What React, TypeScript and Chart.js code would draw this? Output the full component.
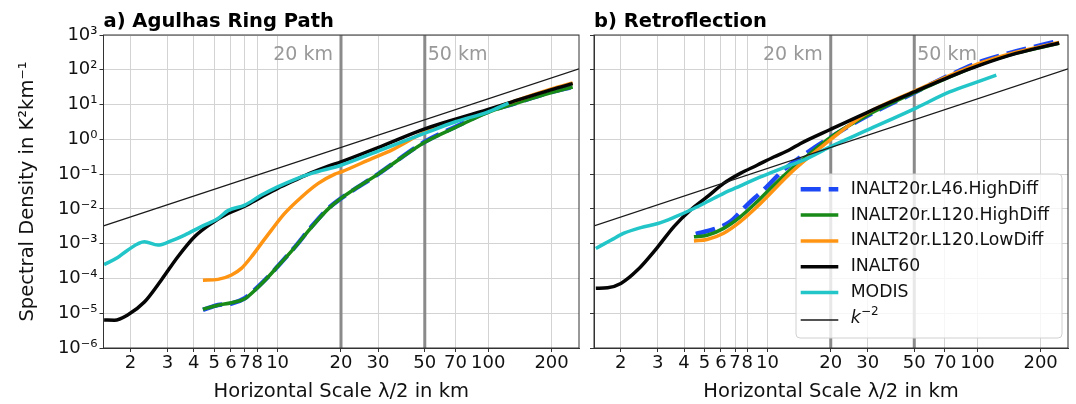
import React, { useEffect, useRef } from 'react';
import { Chart, registerables } from 'chart.js';

Chart.register(...registerables);
Chart.defaults.font.family = '"DejaVu Sans"';

// horizontal scale lambda/2 in km, spectral density in K^2 km^-1

// a) Agulhas Ring Path
const ringL46X = [4.42, 5.21, 6.04, 6.98, 7.78, 9.02, 10, 12.1, 14.5, 17.4, 20, 30, 50, 70, 100, 130, 200, 252];
const ringL46Y = [1.24e-5, 1.73e-5, 1.9e-5, 2.7e-5, 4.7e-5, 1.12e-4, 2.2e-4, 8.1e-4, 3.1e-3, 1.03e-2, 2.0e-2, 0.1, 0.85, 2.3, 6.3, 10.2, 23, 32];
const ringHighX = [4.42, 5.21, 6.04, 6.98, 7.78, 9.02, 10, 12.1, 14.5, 17.4, 20, 30, 50, 70, 100, 130, 200, 252];
const ringHighY = [1.3e-5, 1.7e-5, 2.0e-5, 2.6e-5, 4.5e-5, 1.1e-4, 2.2e-4, 8.0e-4, 3.0e-3, 1.0e-2, 2.0e-2, 0.1, 0.82, 2.2, 6.0, 10, 22, 32];
const ringLowX = [4.42, 5.21, 6.04, 6.73, 7.51, 8.38, 9.35, 10.8, 13, 15.6, 18.7, 20, 28, 35, 50, 100, 130, 200, 252];
const ringLowY = [8.9e-5, 9.4e-5, 1.26e-4, 1.95e-4, 4.2e-4, 1.02e-3, 2.46e-3, 7.4e-3, 2.2e-2, 5.4e-2, 0.1, 0.115, 0.28, 0.5, 1.6, 6.8, 12, 28, 42];
const ringInalt60X = [1.5, 1.68, 1.94, 2.33, 2.8, 3.36, 4.03, 4.84, 5.81, 6.98, 8.38, 10, 12.1, 14.5, 17.4, 20, 30, 50, 100, 130, 200, 252];
const ringInalt60Y = [6.4e-6, 6.3e-6, 8.9e-6, 2.1e-5, 8.9e-5, 4.2e-4, 1.58e-3, 3.8e-3, 7.4e-3, 1.2e-2, 2.2e-2, 3.9e-2, 6.7e-2, 0.11, 0.17, 0.225, 0.58, 2.0, 7.2, 12, 27, 40];
const ringModisX = [1.5, 1.74, 1.94, 2.33, 2.7, 3.12, 3.62, 4.34, 5.21, 5.81, 6.98, 8.38, 10, 12.1, 14.5, 20, 30, 50, 70, 100, 125];
const ringModisY = [2.5e-4, 4.0e-4, 6.5e-4, 1.13e-3, 9.1e-4, 1.2e-3, 1.77e-3, 3.1e-3, 5.3e-3, 8.9e-3, 1.29e-2, 2.5e-2, 4.3e-2, 7.1e-2, 0.105, 0.18, 0.46, 1.5, 3.2, 6.2, 11];

// b) Retroflection
const retroL46X = [4.55, 5.55, 6.65, 7.98, 9.57, 11.9, 14.8, 20, 29.6, 50, 73.6, 106, 153, 245];
const retroL46Y = [1.9e-3, 2.6e-3, 4.3e-3, 1.29e-2, 3.5e-2, 0.13, 0.35, 1.15, 4.6, 22, 70, 180, 340, 680];
const retroHighX = [4.46, 5.15, 6.18, 7.42, 8.91, 10.7, 12.8, 15.4, 20, 29.6, 50, 106, 153, 245];
const retroHighY = [1.58e-3, 1.75e-3, 2.75e-3, 5.9e-3, 1.6e-2, 4.8e-2, 0.13, 0.33, 1.15, 4.8, 22, 150, 300, 580];
const retroLowX = [4.46, 5.15, 6.18, 7.42, 8.91, 10.7, 12.8, 15.4, 18.5, 20, 29.6, 50, 106, 153, 245];
const retroLowY = [1.2e-3, 1.32e-3, 2.0e-3, 4.3e-3, 1.15e-2, 3.5e-2, 0.105, 0.28, 0.68, 1.0, 5.5, 24, 165, 320, 610];
const retroInalt60X = [1.52, 1.73, 2.0, 2.4, 3.0, 3.58, 4.3, 5.15, 6.18, 7.42, 8.91, 10.7, 12.8, 14.3, 20, 29.6, 50, 73.6, 106, 153, 245];
const retroInalt60Y = [5.2e-5, 5.4e-5, 7.2e-5, 1.74e-4, 8.1e-4, 3.1e-3, 9.3e-3, 2.2e-2, 5.4e-2, 0.105, 0.18, 0.31, 0.51, 0.75, 1.95, 5.8, 23, 63, 145, 295, 590];
const retroModisX = [1.52, 1.8, 2.07, 2.49, 3.0, 3.58, 4.3, 5.15, 6.18, 7.42, 8.91, 10.7, 12.8, 15.4, 18.5, 20, 29.6, 50, 73.6, 100, 123];
const retroModisY = [7.3e-4, 1.27e-3, 2.0e-3, 2.9e-3, 3.8e-3, 5.7e-3, 9.3e-3, 1.6e-2, 2.8e-2, 4.6e-2, 7.5e-2, 0.117, 0.18, 0.28, 0.49, 0.62, 1.8, 7.5, 23, 45, 70];

// k^-2 reference line (same in both panels)
const k2X = [1.49, 270];
const k2Y = [3.26e-3, 107];

const seriesLabels = ['INALT20r.L46.HighDiff', 'INALT20r.L120.HighDiff', 'INALT20r.L120.LowDiff', 'INALT60', 'MODIS', 'k⁻²'];
const xTickValues = [2, 3, 4, 5, 6, 7, 8, 10, 20, 30, 50, 70, 100, 200];
const yTickExponents = [-6, -5, -4, -3, -2, -1, 0, 1, 2, 3];
const markerLines = [20, 50];

const styles = [
  { color: '#1c48f5', width: 4.5, dash: [20, 8] },
  { color: '#178a17', width: 3.5, dash: [] },
  { color: '#ff9412', width: 3.5, dash: [] },
  { color: '#050505', width: 3.5, dash: [] },
  { color: '#22c5c8', width: 3.5, dash: [] },
  { color: '#1a1a1a', width: 1.3, dash: [] },
];

const SUP: Record<string, string> = { '-': '⁻', '0': '⁰', '1': '¹', '2': '²', '3': '³', '4': '⁴', '5': '⁵', '6': '⁶' };
const pow10 = (e: number) => '10' + String(e).split('').map((c) => SUP[c]).join('');

type Series = { x: number[]; y: number[] };

const decor = (title: string, withLegend: boolean) => ({
  id: 'decor',
  afterDraw(chart: any) {
    const { ctx, chartArea: a, scales } = chart;
    ctx.save();
    // spines
    ctx.strokeStyle = '#333';
    ctx.lineWidth = 1;
    ctx.strokeRect(a.left, a.top, a.right - a.left, a.bottom - a.top);

    // marker labels
    ctx.font = '19px "DejaVu Sans"';
    ctx.fillStyle = '#999';
    ctx.textBaseline = 'alphabetic';
    ctx.textAlign = 'right';
    ctx.fillText(`${markerLines[0]} km`, scales.x.getPixelForValue(markerLines[0]) - 8, 60);
    ctx.textAlign = 'left';
    ctx.fillText(`${markerLines[1]} km`, scales.x.getPixelForValue(markerLines[1]) + 3, 60);

    // panel title
    ctx.font = 'bold 19.5px "DejaVu Sans"';
    ctx.fillStyle = '#000';
    ctx.fillText(title, a.left, 27);

    if (withLegend) {
      const w = 266, h = 164;
      const bx = a.right - 6 - w, by = a.bottom - 10 - h;
      ctx.fillStyle = 'rgba(255,255,255,0.8)';
      ctx.strokeStyle = '#d0d0d0';
      ctx.beginPath();
      ctx.roundRect(bx, by, w, h, 4);
      ctx.fill();
      ctx.stroke();
      seriesLabels.forEach((label, i) => {
        const y = i < 5 ? by + 15.3 + i * 25.8 : by + 146;
        const s = styles[i];
        ctx.strokeStyle = s.color;
        ctx.lineWidth = s.width;
        ctx.setLineDash(s.dash);
        ctx.beginPath();
        ctx.moveTo(bx + 4.7, y);
        ctx.lineTo(bx + 42.3, y);
        ctx.stroke();
        ctx.setLineDash([]);
        ctx.fillStyle = '#111';
        ctx.textBaseline = 'middle';
        ctx.textAlign = 'left';
        if (i < 5) {
          ctx.font = '17.3px "DejaVu Sans"';
          ctx.fillText(label, bx + 54.7, y);
        } else {
          ctx.font = 'italic 17.3px "DejaVu Sans"';
          ctx.fillText('k', bx + 54.7, y - 1);
          ctx.font = '12px "DejaVu Sans"';
          ctx.fillText('−2', bx + 65, y - 8);
        }
      });
    }
    ctx.restore();
  },
});

const Panel: React.FC<{ title: string; series: Series[]; showY: boolean; legend: boolean; left: number; width: number; padRight: number; yWidth: number }> = ({ title, series, showY, legend, left, width, padRight, yWidth }) => {
  const canvasRef = useRef<HTMLCanvasElement | null>(null);

  useEffect(() => {
    if (!canvasRef.current) return;
    const datasets: any[] = [
      ...markerLines.map((v) => ({
        label: `${v} km`,
        data: [{ x: v, y: 1e-6 }, { x: v, y: 1e3 }],
        borderColor: '#8a8a8a',
        borderWidth: 3,
        pointRadius: 0,
        order: 10,
      })),
      ...series.map((s, i) => ({
        label: seriesLabels[i],
        data: s.x.map((x, j) => ({ x, y: s.y[j] })),
        borderColor: styles[i].color,
        borderWidth: styles[i].width,
        borderDash: styles[i].dash,
        pointRadius: 0,
        cubicInterpolationMode: 'monotone',
        order: 6 - i,
      })),
    ];

    const chart = new Chart(canvasRef.current, {
      type: 'line',
      data: { datasets },
      options: {
        animation: false,
        responsive: true,
        maintainAspectRatio: false,
        layout: { padding: { left: 0, right: padRight, top: 35, bottom: 0 } },
        plugins: { legend: { display: false }, tooltip: { enabled: false } },
        scales: {
          x: {
            type: 'logarithmic',
            min: 1.49,
            max: 270,
            afterBuildTicks: (axis: any) => {
              axis.ticks = xTickValues.map((value) => ({ value }));
            },
            afterFit: (axis: any) => {
              axis.height = 56;
            },
            ticks: {
              autoSkip: false,
              maxRotation: 0,
              padding: 1,
              color: '#111',
              font: { size: 18 },
              callback: (v: any) => String(v),
            },
            grid: { color: '#d3d3d3', lineWidth: 1, tickLength: 4, tickColor: '#333' },
            border: { display: true, color: '#333' },
            title: {
              display: true,
              text: 'Horizontal Scale λ/2 in km',
              color: '#111',
              font: { size: 19.5 },
              padding: { top: 0, bottom: 0 },
            },
          },
          y: {
            type: 'logarithmic',
            min: 1e-6,
            max: 1e3,
            afterBuildTicks: (axis: any) => {
              axis.ticks = yTickExponents.map((e) => ({ value: Math.pow(10, e) }));
            },
            afterFit: (axis: any) => {
              axis.width = yWidth;
            },
            ticks: {
              display: showY,
              autoSkip: false,
              padding: 2,
              color: '#111',
              font: { size: 18 },
              callback: (v: any) => pow10(Math.round(Math.log10(v))),
            },
            grid: { color: '#d3d3d3', lineWidth: 1, tickLength: 4, tickColor: '#333' },
            border: { display: true, color: '#333' },
            title: {
              display: showY,
              text: 'Spectral Density in K²km⁻¹',
              color: '#111',
              font: { size: 19.5 },
              padding: { top: 16, bottom: 0 },
            },
          },
        },
      } as any,
      plugins: [decor(title, legend)],
    });

    return () => chart.destroy();
  }, [title, series, showY, legend, padRight, yWidth]);

  return (
    <div style={{ position: 'absolute', left, top: 0, width, height: 404 }}>
      <canvas ref={canvasRef} />
    </div>
  );
};

const ringSeries: Series[] = [
  { x: ringL46X, y: ringL46Y },
  { x: ringHighX, y: ringHighY },
  { x: ringLowX, y: ringLowY },
  { x: ringInalt60X, y: ringInalt60Y },
  { x: ringModisX, y: ringModisY },
  { x: k2X, y: k2Y },
];

const retroSeries: Series[] = [
  { x: retroL46X, y: retroL46Y },
  { x: retroHighX, y: retroHighY },
  { x: retroLowX, y: retroLowY },
  { x: retroInalt60X, y: retroInalt60Y },
  { x: retroModisX, y: retroModisY },
  { x: k2X, y: k2Y },
];

const App: React.FC = () => {
  return (
    <div style={{ position: 'fixed', left: 0, top: 0, width: 1076, height: 404, background: '#fff' }}>
      <Panel title="a) Agulhas Ring Path" series={ringSeries} showY legend={false} left={0} width={585} padRight={6} yWidth={103.5} />
      <Panel title="b) Retroflection" series={retroSeries} showY={false} legend left={585} width={491} padRight={8} yWidth={9} />
    </div>
  );
};

export default App;
